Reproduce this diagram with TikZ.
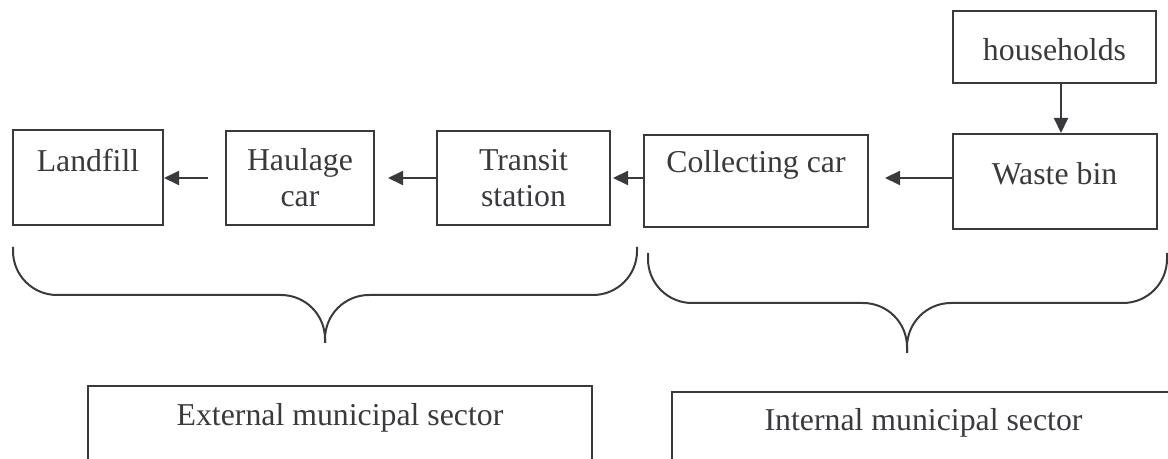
\documentclass[tikz,border=0pt]{standalone}
\usepackage{fontspec}
\setmainfont{Liberation Serif}
\usetikzlibrary{arrows.meta}
\definecolor{ink}{RGB}{58,58,62}
\tikzset{
  box/.style={draw, rectangle, inner sep=0pt, font=\fontsize{15.9}{18}\selectfont},
  flow/.style={-{Triangle[length=7.5pt,width=7pt]}},
}
\begin{document}
\begin{tikzpicture}[x=0.5pt, y=-0.5pt, line width=1pt, color=ink, every node/.style={align=center}]
\clip (0,0) rectangle (1168,459);
\node (households) [box, minimum width=101.5pt, minimum height=36pt, text height=14pt, text depth=0pt] at (1054.5,47) {households};
\node (waste) [box, below of=households, node distance=67.25pt, minimum width=102pt, minimum height=47.5pt, text height=11pt, text depth=7.5pt] {Waste bin};
\node (collect) [box, minimum width=112pt, minimum height=46pt, text height=11pt, text depth=19pt] at (756,181) {Collecting car};
\node (transit) [box, minimum width=86.5pt, minimum height=47pt] at (523.5,178) {Transit\\station};
\node (haulage) [box, minimum width=74pt, minimum height=47pt] at (300,178) {Haulage\\car};
\node (landfill) [box, minimum width=75pt, minimum height=47.5pt, text height=11pt, text depth=16.5pt] at (88,177.5) {Landfill};
\node (external) [box, anchor=north, minimum width=252pt, text height=20pt, text depth=30pt] at (340,385) {External municipal sector};
\node (internal) [box, anchor=north, minimum width=251.5pt, text height=19.5pt, text depth=30pt] at (923.5,391) {Internal municipal sector};

\coordinate (row) at (0,178);
\draw[flow] ([xshift=3.25pt]households.south) -- ([xshift=3.25pt]waste.north);
\draw[flow, shorten >=8pt] (waste.west |- row) -- (collect.east |- row);
\draw[flow, shorten >=1pt] (collect.west |- row) -- (transit.east |- row);
\draw[flow, shorten >=6.5pt] (transit.west |- row) -- (haulage.east |- row);
\draw[flow, shorten <=8.5pt] (haulage.west |- row) -- (landfill.east |- row);

% braces
\draw[rounded corners=22pt] (13,247) |- (325,295) -- (325,343);
\draw[rounded corners=22pt] (637,247) |- (325,295) -- (325,343);
\draw[rounded corners=22pt] (648,253) |- (907,303) -- (907,353);
\draw[rounded corners=22pt] (1167,253) |- (907,303) -- (907,353);
\end{tikzpicture}
\end{document}
